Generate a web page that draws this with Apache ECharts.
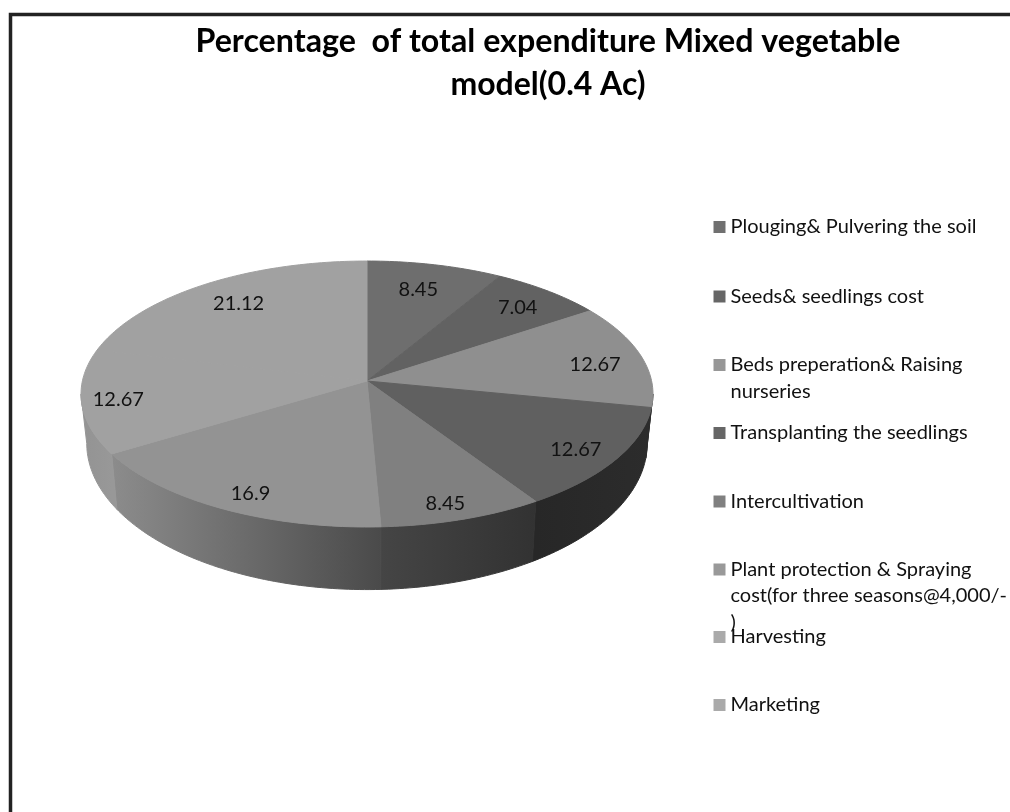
<!DOCTYPE html>
<html><head><meta charset="utf-8">
<style>html,body{margin:0;padding:0;background:#fff}#c{width:1010px;height:812px}</style>
<script src="https://cdn.jsdelivr.net/npm/echarts@6/dist/echarts.min.js"></script>
</head><body><div id="c"></div>
<script>
const categories = ["Plouging& Pulvering the soil","Seeds& seedlings cost","Beds preperation& Raising nurseries","Transplanting the seedlings","Intercultivation","Plant protection & Spraying cost(for three seasons@4,000/-)","Harvesting","Marketing"];
const legendLines = [["Plouging& Pulvering the soil"],["Seeds& seedlings cost"],["Beds preperation& Raising","nurseries"],["Transplanting the seedlings"],["Intercultivation"],["Plant protection & Spraying","cost(for three seasons@4,000/-",")"],["Harvesting"],["Marketing"]];
const values = [8.45,7.04,12.67,12.67,8.45,16.9,12.67,21.12];
const topColors = ["#6e6e6e","#626262","#8f8f8f","#606060","#808080","#939393","#a1a1a1","#a1a1a1"];
const sideLeft = ["#2c2c2c","#2c2c2c","#2e2e2e","#272727","#454545","#8c8c8c","#939393","#939393"];
const sideRight = ["#2c2c2c","#2c2c2c","#2e2e2e","#2c2c2c","#323232","#4a4a4a","#989898","#989898"];
const swatches = ["#707070","#666666","#979797","#666666","#808080","#999999","#aaaaaa","#aaaaaa"];
const legendY = [227,296.5,365,433,501.5,569.5,637,705];
const labelNudgeX = [-4,4,5,0,-4,11,-2,7];
const labelNudgeY = [1,-3,2,1,2,-1,-1,1];

const total = values.reduce((a,b)=>a+b,0);
const starts = values.map((_,i)=>values.slice(0,i).reduce((a,b)=>a+b,0)/total*360);
const P = {ax:367, ay:381, A:284.6, B:131.7, k:0.0978, lowY:429, lowS:1.1, lowX:0.98};
function proj(deg,r){
  const t=deg*Math.PI/180, w=1+P.k*r*Math.cos(t);
  return [P.ax+P.A*r*Math.sin(t)/w, P.ay-P.B*r*Math.cos(t)/w];
}
function low(p){return [P.ax+(p[0]-P.ax)*P.lowX, P.lowY+P.lowS*(p[1]-P.ay)];}
function arc(a,b){const o=[];for(let d=a;d<b;d+=1)o.push(d);o.push(b);return o;}
const sideMin=95.6, sideMax=264.4;

function render(i){
  return function(params,api){
    const v=api.value(0), a=starts[i], b=a+v/total*360, children=[];
    const s0=Math.max(a,sideMin), s1=Math.min(b,sideMax);
    if(s1>s0){
      const top=arc(s0,s1).map(d=>proj(d,1));
      const bot=top.map(low).reverse();
      const xs=top.map(p=>p[0]);
      const grad={type:'linear',global:true,x:Math.min(...xs),y:0,x2:Math.max(...xs),y2:0,
          colorStops:[{offset:0,color:sideLeft[i]},{offset:1,color:sideRight[i]}]};
      children.push({type:'polygon',z2:1,shape:{points:top.concat(bot)},
        style:{stroke:grad,lineWidth:1,fill:grad}});
    }
    children.push({type:'polygon',z2:10,shape:{points:[[P.ax,P.ay]].concat(arc(a,b).map(d=>proj(d,1)))},
      style:{fill:topColors[i],stroke:topColors[i],lineWidth:1}});
    const mid=(a+b)/2, t=mid*Math.PI/180, r=0.84-0.04*Math.cos(t)-0.02*Math.sin(t), c=proj(mid,r);
    children.push({type:'text',z2:20,style:{text:String(v),x:c[0]+labelNudgeX[i],y:c[1]+2+labelNudgeY[i],align:'center',verticalAlign:'middle',
      font:'20px Lato',fill:'#111'}});
    return {type:'group',children};
  };
}

const LH=26.3;
const legends=categories.map((name,i)=>{
  const n=legendLines[i].length, y=legendY[i];
  return {show:true,data:[{name,icon:'rect'}],left:713.5,top:y-(2*n-1)*LH/2,padding:0,orient:'vertical',
    itemWidth:12,itemHeight:12,selectedMode:false,
    formatter:()=>"\n".repeat(n-1)+legendLines[i].join("\n"),
    textStyle:{fontFamily:'Lato',fontSize:20,color:'#111',lineHeight:LH}};
});

const chart=echarts.init(document.getElementById('c'),null,{renderer:'canvas'});
chart.setOption({
  animation:false,backgroundColor:'#fff',
  title:[
    {text:"Percentage  of total expenditure Mixed vegetable",left:543,top:37,textAlign:'center',textVerticalAlign:'middle',
     textStyle:{fontFamily:'Lato',fontWeight:'bold',fontSize:32.2,color:'#000'}},
    {text:"model(0.4 Ac)",left:543,top:80,textAlign:'center',textVerticalAlign:'middle',
     textStyle:{fontFamily:'Lato',fontWeight:'bold',fontSize:32,color:'#000'}}
  ],
  tooltip:{show:false},
  legend:legends,
  graphic:[{type:'polyline',silent:true,shape:{points:[[10.5,812],[10.5,14.5],[1010,14.5]]},style:{stroke:'#222',lineWidth:3.5,fill:null}}],
  series:categories.map((name,i)=>({type:'custom',name,coordinateSystem:'none',renderItem:render(i),
    data:[values[i]],itemStyle:{color:swatches[i]},silent:true}))
});
</script></body></html>
